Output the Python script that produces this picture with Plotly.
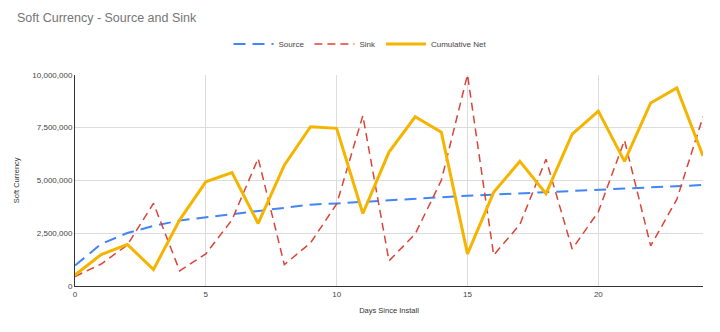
import plotly.graph_objects as go

# Daily soft-currency flows for the first days after install
days = list(range(25))
source = [970000, 1990000, 2510000, 2840000, 3100000, 3250000, 3420000, 3580000,
          3730000, 3850000, 3910000, 3990000, 4060000, 4130000, 4200000, 4270000,
          4330000, 4390000, 4450000, 4510000, 4560000, 4620000, 4670000, 4720000,
          4780000]
sink = [450000, 1040000, 1940000, 3910000, 720000, 1520000, 3130000, 6040000,
        1010000, 2040000, 3880000, 8060000, 1190000, 2460000, 5000000, 10000000,
        1460000, 2910000, 6000000, 1750000, 3510000, 6900000, 1900000, 4100000,
        8010000]
cumulative_net = [520000, 1490000, 1970000, 780000, 3130000, 4930000, 5370000,
                  2960000, 5720000, 7540000, 7460000, 3430000, 6340000, 8010000,
                  7280000, 1520000, 4430000, 5900000, 4370000, 7190000, 8280000,
                  5900000, 8660000, 9370000, 6160000]
y_ticks = [0, 2500000, 5000000, 7500000, 10000000]
x_ticks = [0, 5, 10, 15, 20]

font_family = "Liberation Sans, Arial, sans-serif"

fig = go.Figure()
fig.add_trace(go.Scatter(
    x=days, y=source, name="Source", mode="lines",
    line=dict(color="#4285F4", width=2, dash="12px,7px"),
))
fig.add_trace(go.Scatter(
    x=days, y=sink, name="Sink", mode="lines",
    line=dict(color="#DB4437", width=1.5, dash="8px,5px"),
))
fig.add_trace(go.Scatter(
    x=days, y=cumulative_net, name="Cumulative Net", mode="lines",
    line=dict(color="#F4B400", width=3),
))

fig.update_layout(
    width=720, height=332,
    margin=dict(l=75, r=17, t=62, b=46),
    paper_bgcolor="white", plot_bgcolor="white",
    font=dict(family=font_family, size=8, color="#444444"),
    title=dict(
        text="Soft Currency - Source and Sink",
        x=17 / 720, xanchor="left", y=1 - 18 / 332, yanchor="middle",
        font=dict(size=12.5, color="#757575", family=font_family),
    ),
    legend=dict(
        orientation="h", xref="container", x=0.5, xanchor="center",
        yref="container", y=1 - 44 / 332, yanchor="middle",
        font=dict(size=8, color="#444444"),
        itemwidth=40,
    ),
    xaxis=dict(
        range=[0, 24], tickvals=x_ticks,
        showgrid=True, gridcolor="#DCDCDC", gridwidth=1,
        showline=True, linecolor="#333333", linewidth=1,
        zeroline=False, ticks="",
        tickfont=dict(size=8, color="#444444"),
        title=dict(text="Days Since Install", font=dict(size=7.5, color="#333333"),
                   standoff=10),
    ),
    yaxis=dict(
        range=[0, 10000000], tickvals=y_ticks, tickformat=",",
        showgrid=True, gridcolor="#DCDCDC", gridwidth=1,
        showline=True, linecolor="#333333", linewidth=1,
        zeroline=False, ticks="",
        tickfont=dict(size=8, color="#444444"),
        title=dict(text="Soft Currency", font=dict(size=7.5, color="#333333"),
                   standoff=11),
    ),
)

fig.write_html("out.html")
